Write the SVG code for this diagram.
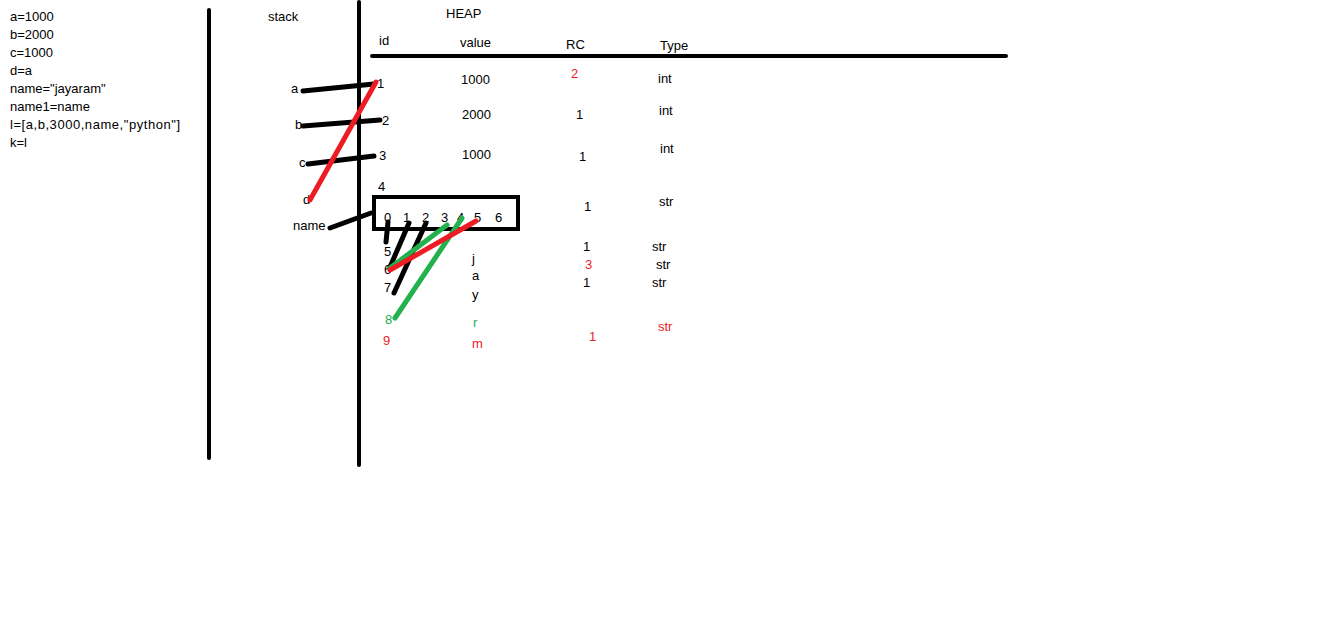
<svg xmlns="http://www.w3.org/2000/svg" width="1344" height="619" viewBox="0 0 1344 619">
<style>
text{font-family:"Liberation Sans",Arial,sans-serif;font-size:13px;fill:#000}
.r{fill:#ed1c24}
.g{fill:#22b14c}
.k{stroke:#000;stroke-linecap:round;fill:none}
.rl{stroke:#ed1c24;stroke-linecap:round;fill:none;stroke-width:5}
.gl{stroke:#22b14c;stroke-linecap:round;fill:none;stroke-width:5}
</style>
<rect width="1344" height="619" fill="#fff"/>
<g id="code">
<text x="10" y="21">a=1000</text>
<text x="10" y="39">b=2000</text>
<text x="10" y="57">c=1000</text>
<text x="10" y="75">d=a</text>
<text x="10" y="93">name="jayaram"</text>
<text x="10" y="111">name1=name</text>
<text x="10" y="129" textLength="170">l=[a,b,3000,name,"python"]</text>
<text x="10" y="147">k=l</text>
</g>
<g id="frame">
<line class="k" x1="209" y1="10" x2="209" y2="458" stroke-width="4"/>
<line class="k" x1="359" y1="2" x2="359" y2="465" stroke-width="4"/>
<line class="k" x1="372" y1="56" x2="1006" y2="56" stroke-width="4"/>
<text x="268" y="21">stack</text>
<text x="446" y="18">HEAP</text>
<text x="379" y="45">id</text>
<text x="460" y="47">value</text>
<text x="566" y="49">RC</text>
<text x="660" y="50">Type</text>
</g>
<g id="stack-vars">
<text x="291" y="93">a</text>
<text x="295" y="129">b</text>
<text x="299" y="167">c</text>
<text x="303" y="204">d</text>
<text x="293" y="230">name</text>
</g>
<g id="heap-rows">
<text x="377" y="88">1</text><text x="461" y="84">1000</text><text class="r" x="571" y="78">2</text><text x="658" y="83">int</text>
<text x="382" y="125">2</text><text x="462" y="119">2000</text><text x="576" y="119">1</text><text x="659" y="115">int</text>
<text x="379" y="160">3</text><text x="462" y="159">1000</text><text x="579" y="161">1</text><text x="660" y="153">int</text>
<text x="378" y="191">4</text><text x="584" y="211">1</text><text x="659" y="206">str</text>
<text x="384" y="256">5</text><text x="583" y="251">1</text><text x="652" y="251">str</text><text x="472" y="263">j</text>
<text x="384" y="274">6</text><text class="r" x="585" y="269">3</text><text x="656" y="269">str</text><text x="472" y="280">a</text>
<text x="384" y="292">7</text><text x="583" y="287">1</text><text x="652" y="287">str</text><text x="472" y="299">y</text>
<text class="g" x="385" y="324">8</text><text class="g" x="473" y="327">r</text><text class="r" x="658" y="331">str</text>
<text class="r" x="383" y="345">9</text><text class="r" x="472" y="348">m</text><text class="r" x="589" y="341">1</text>
</g>
<g id="list-box">
<rect x="374" y="197" width="144" height="32" fill="none" stroke="#000" stroke-width="4"/>
<text x="384" y="222">0</text>
<text x="403" y="222">1</text>
<text x="422" y="222">2</text>
<text x="441" y="222">3</text>
<text x="457" y="222">4</text>
<text x="474" y="222">5</text>
<text x="495" y="222">6</text>
</g>
<g id="connectors">
<line class="k" stroke-width="5" x1="303" y1="91" x2="374" y2="84"/>
<line class="k" stroke-width="5" x1="303" y1="126" x2="380" y2="120"/>
<line class="k" stroke-width="5" x1="308" y1="164" x2="374" y2="156"/>
<line class="k" stroke-width="5" x1="330" y1="228" x2="371" y2="213"/>
<line class="rl" x1="376" y1="82" x2="310" y2="200"/>
<line class="k" stroke-width="5" x1="388" y1="222" x2="386" y2="242"/>
<line class="k" stroke-width="5" x1="409" y1="223" x2="390" y2="267"/>
<line class="k" stroke-width="5" x1="426" y1="223" x2="394" y2="293"/>
<line class="gl" x1="447" y1="225" x2="390" y2="268"/>
<line class="gl" x1="462" y1="218" x2="395" y2="318"/>
<line class="rl" x1="476" y1="221" x2="390" y2="270"/>
</g>
</svg>
